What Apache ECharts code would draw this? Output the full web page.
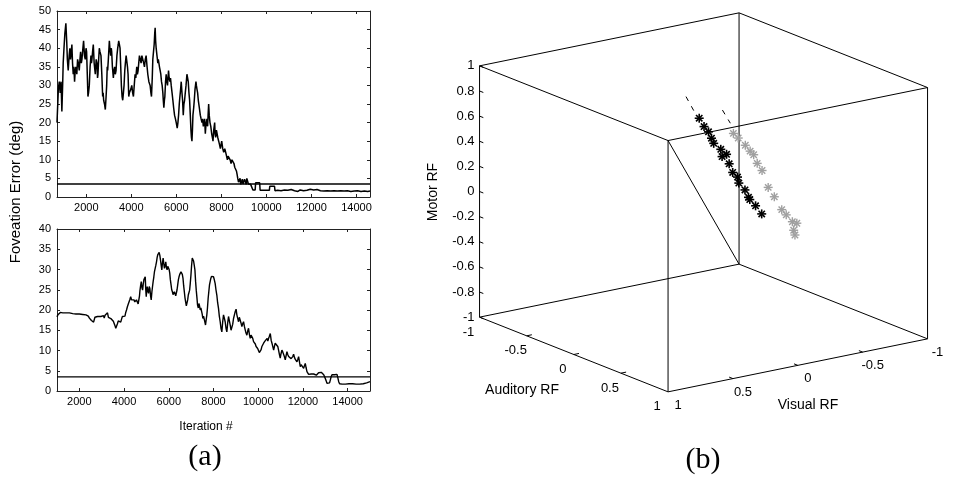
<!DOCTYPE html>
<html>
<head>
<meta charset="utf-8">
<script src="https://cdn.jsdelivr.net/npm/echarts@6/dist/echarts.min.js"></script>
<style>
  html, body { margin: 0; background: #fff; }
  #chart { width: 980px; height: 480px; }
</style>
</head>
<body>
<div id="chart"></div>
<script>
// ---- panel (a): foveation error vs iteration, two runs ----
const iterTicks = [2000, 4000, 6000, 8000, 10000, 12000, 14000];
const threshold = 3.5;

const runTop = [
  [700,20],[740,20],[760,29],[800,31],[842,28],[880,31],[916,23],[950,30],[975,36],[1010,40],[1050,44],[1094,46.7],
  [1130,42],[1160,37],[1198,34],[1240,38],[1272,40],[1300,37],[1317,38],[1361,41],[1390,36],[1421,33],[1450,35],
  [1480,31],[1510,34],[1540,35],[1580,33],[1614,37],[1650,36],[1688,34],[1720,37],[1748,39],[1780,36],[1807,37],
  [1850,40],[1881,42],[1920,38],[1955,37],[1990,40],[2015,39],[2045,33],[2074,27],[2100,28],[2134,30],[2170,35],
  [2208,38],[2230,36],[2252,37],[2280,39],[2312,41],[2350,36],[2401,33],[2440,37],[2475,36],[2500,32],[2520,33],
  [2550,37],[2579,40],[2610,39],[2653,38],[2690,33],[2728,27],[2750,28],[2772,26],[2810,25],[2846,23.5],[2880,27],
  [2906,30],[2930,35],[2950,34],[2980,37],[3025,42],[3050,40],[3084,38],[3110,40],[3129,39],[3160,35],[3203,32],
  [3230,34],[3262,35],[3290,33],[3322,34],[3360,38],[3396,40],[3420,41],[3440,42],[3470,41],[3500,40],[3530,35],
  [3559,30],[3590,27],[3619,26],[3650,28],[3678,30],[3710,34],[3737,36],[3770,38],[3797,38],[3830,35],[3856,33],
  [3886,27],[3915,28],[3945,28],[3980,29],[4020,30],[4060,28],[4094,27],[4130,30],[4168,33],[4200,32],[4242,35],
  [4270,33],[4302,34],[4330,36],[4361,38],[4400,37],[4435,36],[4470,38],[4510,38],[4550,36],[4584,35],[4620,37],
  [4658,38],[4700,35],[4732,33],[4780,31],[4836,30],[4870,28],[4896,27],[4930,32],[4955,37],[4985,39],[5015,41],
  [5040,44],[5059,45.5],[5080,42],[5104,40],[5140,38],[5178,36],[5200,37],[5222,37],[5250,35],[5282,34],[5310,33],
  [5341,31],[5370,30],[5401,28],[5420,26],[5445,24],[5470,26],[5490,27],[5520,31],[5549,33],[5580,31],[5608,30],
  [5630,32],[5653,34],[5680,32],[5712,31],[5740,32],[5772,30],[5810,28],[5846,26],[5880,24],[5920,22],[5960,21],
  [5995,20],[6039,18.5],[6070,20],[6099,22],[6130,25],[6158,27],[6190,29],[6217,31],[6250,28],[6277,26],[6307,22],
  [6336,25],[6366,26],[6396,28],[6430,30],[6470,33],[6500,32],[6529,31],[6560,28],[6589,26],[6620,22],[6648,18],
  [6670,16],[6693,15],[6715,18],[6737,22],[6770,24],[6797,26],[6830,29],[6871,31],[6890,30],[6915,29],[6945,28],
  [6975,26],[7020,24],[7064,22],[7100,21],[7138,20],[7170,21],[7197,19],[7230,20],[7257,21],[7287,17],[7310,19],
  [7331,20],[7360,21],[7390,19],[7410,22],[7435,25],[7460,22],[7494,20],[7530,19],[7569,17],[7600,16],[7628,15],
  [7660,18],[7702,20],[7720,17],[7747,16],[7780,18],[7806,18],[7840,16],[7881,15],[7920,14],[7955,13],[7985,14],
  [8014,15],[8060,13],[8103,12],[8150,13],[8192,12],[8230,11],[8267,10],[8300,11],[8341,11],[8390,10],[8430,9],
  [8470,10],[8519,10],[8560,9],[8593,8],[8630,7.5],[8668,7],[8700,6],[8727,5],[8760,4],[8786,3.5],
  [8800,3.4],[8830,5],[8860,3.4],[8900,3.4],[8930,4.8],[8960,3.5],[9000,3.5],[9030,4.8],[9080,4.8],[9100,3.4],
  [9130,5],[9180,5],[9200,3.5],[9260,3.5],[9300,3.4],[9380,3.4],[9400,1.9],[9500,1.9],[9520,3.8],[9700,3.8],
  [9720,1.8],[10130,1.8],[10150,2.9],[10360,2.9],[10380,1.7],[10500,1.8],[10650,1.7],[10800,1.9],[10950,1.8],
  [11100,2.0],[11250,1.7],[11400,1.5],[11500,1.9],[11650,1.7],[11800,1.8],[11950,2.1],[12100,1.9],[12250,2.0],
  [12400,1.7],[12550,1.6],[12700,1.7],[12850,1.6],[13000,1.7],[13150,1.6],[13300,1.7],[13450,1.6],[13600,1.7],
  [13750,1.5],[13900,1.6],[14050,1.7],[14200,1.5],[14350,1.6],[14500,1.5],[14600,1.6]
];

const runBottom = [
  [1000,18.3],[1040,18.8],[1070,19.2],[1150,19.4],[1260,19.3],[1330,19.0],[1408,19.3],[1480,19.1],[1556,19.3],
  [1630,18.9],[1704,19.1],[1780,19.3],[1852,19.0],[1930,19.2],[2000,19.0],[2070,19.1],[2148,18.9],[2220,19.1],
  [2296,18.8],[2350,18.9],[2400,18.5],[2450,18.0],[2489,17.8],[2540,17.4],[2592,17.3],[2637,17.0],[2696,18.2],
  [2750,18.5],[2815,18.4],[2880,18.7],[2963,18.4],[3000,18.8],[3037,18.2],[3080,18.6],[3111,18.0],[3150,18.7],
  [3185,18.5],[3220,19.0],[3259,19.3],[3300,18.2],[3333,17.8],[3370,18.3],[3407,17.9],[3440,18.1],[3481,17.5],
  [3520,17.2],[3555,17.1],[3590,16.2],[3629,15.5],[3665,15.8],[3703,16.6],[3740,17.3],[3777,17.0],[3815,17.4],
  [3851,17.0],[3890,17.8],[3925,18.4],[3960,18.0],[4000,18.8],[4040,18.5],[4074,19.4],[4110,20.0],[4148,20.8],
  [4185,21.4],[4222,21.6],[4260,22.6],[4296,23.3],[4335,22.5],[4370,22.2],[4410,22.9],[4444,22.5],[4480,22.0],
  [4518,21.6],[4555,22.5],[4592,22.2],[4630,21.5],[4666,21.9],[4690,23.5],[4710,24.8],[4740,26.0],[4769,27.0],
  [4800,25.5],[4829,24.9],[4860,26.5],[4888,27.5],[4920,27.8],[4947,28.2],[4970,25.0],[4992,23.3],[5015,25.0],
  [5036,25.8],[5065,24.6],[5095,24.1],[5125,25.8],[5154,25.3],[5185,23.5],[5214,22.5],[5245,24.5],[5273,25.8],
  [5300,27.0],[5332,28.2],[5360,29.5],[5391,30.3],[5420,31.0],[5451,31.9],[5480,33.0],[5510,33.7],[5540,34.0],
  [5569,34.2],[5600,33.5],[5628,32.4],[5660,31.0],[5688,29.9],[5715,31.5],[5747,32.8],[5775,31.5],[5806,30.3],
  [5835,31.0],[5865,31.9],[5895,30.5],[5925,29.9],[5955,30.8],[5984,31.1],[6015,30.0],[6043,29.1],[6070,27.5],
  [6102,26.2],[6130,25.0],[6162,24.5],[6190,23.8],[6221,23.7],[6250,24.5],[6280,24.9],[6310,23.5],[6339,23.7],
  [6370,25.0],[6399,26.2],[6430,27.5],[6458,28.2],[6490,28.8],[6517,29.1],[6545,29.4],[6576,29.5],[6605,28.8],
  [6636,27.8],[6665,26.0],[6695,24.5],[6725,23.0],[6754,22.0],[6785,21.0],[6813,20.8],[6845,22.5],[6873,23.7],
  [6900,24.0],[6932,24.9],[6960,26.5],[6991,28.6],[7020,31.0],[7050,32.8],[7080,32.5],[7109,32.1],[7140,31.0],
  [7169,29.9],[7200,27.0],[7228,24.9],[7260,23.0],[7287,21.2],[7320,20.5],[7347,21.6],[7375,21.0],[7406,20.0],
  [7435,20.5],[7465,20.8],[7495,19.0],[7524,17.9],[7555,18.5],[7584,18.8],[7615,17.0],[7643,16.3],[7670,17.5],
  [7702,18.8],[7730,20.5],[7761,22.9],[7790,24.5],[7821,26.2],[7850,27.0],[7880,27.8],[7910,28.3],[7939,28.6],
  [7970,28.4],[8000,28.2],[8040,27.4],[8075,26.5],[8110,25.0],[8149,23.7],[8185,21.8],[8224,20.4],[8260,18.5],
  [8299,17.1],[8335,15.5],[8373,14.6],[8410,17.0],[8448,18.8],[8485,18.0],[8522,17.1],[8560,15.5],[8597,14.6],
  [8635,16.8],[8672,18.4],[8710,17.3],[8746,16.3],[8785,15.0],[8821,14.6],[8860,16.5],[8896,17.9],[8935,18.8],
  [8970,19.6],[9010,20.2],[9045,18.8],[9080,18.0],[9120,17.1],[9155,18.2],[9194,17.9],[9230,16.8],[9269,15.9],
  [9305,16.6],[9344,17.1],[9380,16.0],[9418,15.1],[9455,14.3],[9493,13.8],[9530,14.8],[9568,15.5],[9605,14.0],
  [9642,13.0],[9680,13.8],[9717,14.2],[9755,13.0],[9792,12.2],[9830,12.0],[9870,11.6],[9905,11.0],[9940,11.4],
  [9975,10.5],[10015,10.1],[10050,9.5],[10090,9.3],[10130,10.2],[10165,11.0],[10210,11.4],[10240,11.8],
  [10270,12.0],[10300,12.3],[10330,12.5],[10360,12.6],[10400,13.0],[10430,12.3],[10465,13.0],[10500,13.5],
  [10540,14.2],[10580,12.5],[10615,11.8],[10650,11.0],[10690,10.1],[10725,11.0],[10760,11.8],[10800,12.2],
  [10840,12.2],[10875,11.0],[10910,10.1],[10950,9.0],[10985,8.1],[11020,9.2],[11060,10.1],[11100,9.6],
  [11135,9.3],[11170,8.5],[11210,7.7],[11250,8.8],[11285,9.7],[11320,9.0],[11360,8.5],[11400,8.8],[11434,8.5],
  [11470,8.0],[11510,7.7],[11545,8.5],[11583,9.1],[11620,8.3],[11660,7.8],[11700,7.5],[11733,7.2],[11770,7.8],
  [11807,8.5],[11845,7.2],[11882,6.0],[11920,6.5],[11956,6.8],[11995,6.2],[12031,5.6],[12065,6.2],[12105,6.8],
  [12140,5.8],[12180,4.8],[12220,4.4],[12255,4.1],[12300,3.9],[12330,4.0],[12370,4.2],[12400,3.8],[12450,3.9],
  [12480,4.2],[12520,3.8],[12560,4.1],[12600,3.9],[12640,4.2],[12700,4.5],[12740,4.8],[12780,4.8],[12820,4.6],
  [12860,4.5],[12900,4.3],[12930,4.0],[12970,3.5],[13000,3.1],[13040,2.5],[13076,1.9],[13110,1.6],[13150,1.5],
  [13190,2.0],[13225,2.7],[13260,3.5],[13300,4.0],[13340,3.8],[13375,3.7],[13410,4.0],[13450,4.2],[13490,4.0],
  [13524,4.1],[13560,3.3],[13600,2.3],[13640,1.8],[13673,1.6],[13750,1.7],[13830,1.6],[13900,1.7],[13980,1.9],
  [14060,1.8],[14140,1.9],[14220,1.8],[14300,1.7],[14380,1.7],[14460,1.8],[14540,1.7],[14620,1.6],[14700,1.8],
  [14780,1.9],[14850,2.0],[14920,2.1],[15000,2.3]
];

// ---- panel (b): receptive fields, [auditory, visual, motor] ----
const rfBlack = [
  [-0.17,-0.09,0.60],[-0.16,-0.12,0.53],[-0.14,-0.14,0.49],[-0.15,-0.17,0.43],[-0.14,-0.18,0.39],
  [-0.12,-0.22,0.34],[-0.12,-0.23,0.28],[-0.10,-0.25,0.30],[-0.10,-0.27,0.22],[-0.09,-0.29,0.15],
  [-0.08,-0.32,0.11],[-0.08,-0.33,0.06],[-0.07,-0.37,0.00],[-0.06,-0.39,-0.06],[-0.06,-0.40,-0.08],
  [-0.04,-0.43,-0.13],[-0.03,-0.47,-0.20]
];
const rfGray = [
  [0.00,-0.23,0.50],[0.01,-0.26,0.46],[0.03,-0.30,0.40],[0.04,-0.33,0.35],[0.05,-0.35,0.32],
  [0.06,-0.37,0.25],[0.07,-0.40,0.19],[0.08,-0.44,0.05],[0.09,-0.48,-0.03],[0.10,-0.53,-0.14],
  [0.12,-0.55,-0.18],[0.13,-0.59,-0.24],[0.15,-0.61,-0.25],[0.13,-0.60,-0.31],[0.13,-0.61,-0.35]
];
const fitBlack = [[-0.20,-0.01,0.78,-0.18,-0.06,0.655]];
const fitGray = [[-0.02,-0.16,0.695,-0.005,-0.21,0.584]];
const motorTicks = [-1,-0.8,-0.6,-0.4,-0.2,0,0.2,0.4,0.6,0.8,1];
const audTicks = [-1,-0.5,0,0.5,1];
const visTicks = [-1,-0.5,0,0.5,1];

// view of the cube: screen pixels per unit along each axis
const VIEW = { ax: 94.25, ay: -37.35, vx: -129.75, vy: -26.5, mz: 125.65 };
function proj(a, v, m) {
  return [VIEW.ax * a + VIEW.vx * v, VIEW.mz * m + VIEW.ay * a + VIEW.vy * v];
}

const cubeEdges = [];
const sq = [[-1, 1], [1, 1], [1, -1], [-1, -1]];
[-1, 1].forEach(m => {
  for (let i = 0; i < 4; i++) {
    const p = sq[i], q = sq[(i + 1) % 4];
    cubeEdges.push([p[0], p[1], m, q[0], q[1], m]);
  }
});
sq.forEach(p => cubeEdges.push([p[0], p[1], -1, p[0], p[1], 1]));
cubeEdges.push([1, 1, 1, -1, -1, -1]);

const tickSegs = [];
motorTicks.forEach(m => tickSegs.push([-1, 1, m, -0.96, 1, m]));
audTicks.slice(1, -1).forEach(a => tickSegs.push([a, 1, -1, a, 0.96, -1]));
visTicks.slice(1, -1).forEach(v => tickSegs.push([1, v, -1, 0.96, v, -1]));

const FONT = '"Liberation Sans", Arial, Helvetica, sans-serif';

function segItem(stroke, width, dash) {
  return function (params, api) {
    const p = api.coord(proj(api.value(0), api.value(1), api.value(2)));
    const q = api.coord(proj(api.value(3), api.value(4), api.value(5)));
    return {
      type: 'line',
      shape: { x1: p[0], y1: p[1], x2: q[0], y2: q[1] },
      style: { stroke: stroke, lineWidth: width, lineDash: dash || null }
    };
  };
}

function starItem(color, width, r) {
  return function (params, api) {
    const c = api.coord(proj(api.value(0), api.value(1), api.value(2)));
    const d = r * 0.7071;
    const segs = [[-r, 0, r, 0], [0, -r, 0, r], [-d, -d, d, d], [-d, d, d, -d]];
    return {
      type: 'group',
      children: segs.map(s => ({
        type: 'line',
        shape: { x1: c[0] + s[0], y1: c[1] + s[1], x2: c[0] + s[2], y2: c[1] + s[3] },
        style: { stroke: color, lineWidth: width }
      }))
    };
  };
}

function labelItem(pointFn, dx, dy, align) {
  return function (params, api) {
    const val = api.value(0);
    const c = api.coord(pointFn(val));
    return {
      type: 'text',
      x: c[0] + dx, y: c[1] + dy,
      style: {
        text: String(val), fill: '#000', font: '13px ' + FONT,
        align: align, textAlign: align, verticalAlign: 'middle', textVerticalAlign: 'middle'
      }
    };
  };
}

function frameX(grid, min, max, pos) {
  const main = pos === 'bottom';
  return {
    gridIndex: grid, type: 'value', position: pos, min: min, max: max,
    axisLine: { onZero: false, lineStyle: { color: '#222', width: 1 } },
    axisTick: { inside: true, length: 3, customValues: iterTicks, lineStyle: { color: '#222' } },
    axisLabel: { show: main, customValues: iterTicks, formatter: v => String(v),
      color: '#000', fontSize: 11, fontFamily: FONT, margin: 5 },
    splitLine: { show: false }
  };
}
function frameY(grid, max, pos) {
  const main = pos === 'left';
  return {
    gridIndex: grid, type: 'value', position: pos, min: 0, max: max, interval: 5,
    axisLine: { show: true, lineStyle: { color: '#222', width: 1 } },
    axisTick: { show: true, inside: true, length: 3, lineStyle: { color: '#222' } },
    axisLabel: { show: main, color: '#000', fontSize: 11, fontFamily: FONT, margin: 6 },
    splitLine: { show: false }
  };
}

const chart = echarts.init(document.getElementById('chart'));
chart.setOption({
  animation: false,
  backgroundColor: '#fff',
  grid: [
    { left: 57, top: 11, width: 313, height: 186 },
    { left: 57, top: 229, width: 313, height: 162 },
    { left: 400, top: 0, width: 580, height: 480 }
  ],
  xAxis: [
    frameX(0, 700, 14600, 'bottom'),
    frameX(0, 700, 14600, 'top'),
    frameX(1, 1000, 15000, 'bottom'),
    frameX(1, 1000, 15000, 'top'),
    { gridIndex: 2, type: 'value', min: -303.55, max: 276.45, show: false }
  ],
  yAxis: [
    frameY(0, 50, 'left'),
    frameY(0, 50, 'right'),
    frameY(1, 40, 'left'),
    frameY(1, 40, 'right'),
    { gridIndex: 2, type: 'value', min: -277.65, max: 202.35, show: false }
  ],
  series: [
    { type: 'line', xAxisIndex: 0, yAxisIndex: 0, data: runTop, showSymbol: false,
      lineStyle: { color: '#000', width: 1.5 } },
    { type: 'line', xAxisIndex: 0, yAxisIndex: 0, data: [[700, threshold], [14600, threshold]], showSymbol: false,
      lineStyle: { color: '#000', width: 1.3 } },
    { type: 'line', xAxisIndex: 2, yAxisIndex: 2, data: runBottom, showSymbol: false,
      lineStyle: { color: '#000', width: 1.4 } },
    { type: 'line', xAxisIndex: 2, yAxisIndex: 2, data: [[1000, threshold], [15000, threshold]], showSymbol: false,
      lineStyle: { color: '#000', width: 1.3 } },

    { type: 'custom', xAxisIndex: 4, yAxisIndex: 4, data: cubeEdges, renderItem: segItem('#000', 1) },
    { type: 'custom', xAxisIndex: 4, yAxisIndex: 4, data: tickSegs, renderItem: segItem('#000', 1) },
    { type: 'custom', xAxisIndex: 4, yAxisIndex: 4, data: fitBlack, renderItem: segItem('#000', 1, [5, 6]) },
    { type: 'custom', xAxisIndex: 4, yAxisIndex: 4, data: fitGray, renderItem: segItem('#000', 1, [5, 6]) },
    { type: 'custom', xAxisIndex: 4, yAxisIndex: 4, data: rfGray, renderItem: starItem('#a0a0a0', 1.4, 4.5) },
    { type: 'custom', xAxisIndex: 4, yAxisIndex: 4, data: rfBlack, renderItem: starItem('#000', 1.6, 4.5) },
    { type: 'custom', xAxisIndex: 4, yAxisIndex: 4, data: motorTicks.map(m => [m]),
      renderItem: labelItem(m => proj(-1, 1, m), -5, 0, 'right') },
    { type: 'custom', xAxisIndex: 4, yAxisIndex: 4, data: audTicks.map(a => [a]),
      renderItem: labelItem(a => proj(a, 1, -1), -11, 15, 'center') },
    { type: 'custom', xAxisIndex: 4, yAxisIndex: 4, data: visTicks.map(v => [v]),
      renderItem: labelItem(v => proj(1, v, -1), 10, 13.5, 'center') }
  ],
  graphic: [
    { type: 'text', x: 16, y: 192, rotation: Math.PI / 2,
      style: { text: 'Foveation Error (deg)', font: '15px ' + FONT, fill: '#000',
        align: 'center', textAlign: 'center', verticalAlign: 'middle', textVerticalAlign: 'middle' } },
    { type: 'text', x: 206, y: 427,
      style: { text: 'Iteration #', font: '12px ' + FONT, fill: '#000',
        align: 'center', textAlign: 'center', verticalAlign: 'middle', textVerticalAlign: 'middle' } },
    { type: 'text', x: 205, y: 457,
      style: { text: '(a)', font: '30px "Liberation Serif", "Times New Roman", serif', fill: '#000',
        align: 'center', textAlign: 'center', verticalAlign: 'middle', textVerticalAlign: 'middle' } },
    { type: 'text', x: 703, y: 460,
      style: { text: '(b)', font: '30px "Liberation Serif", "Times New Roman", serif', fill: '#000',
        align: 'center', textAlign: 'center', verticalAlign: 'middle', textVerticalAlign: 'middle' } },
    { type: 'text', x: 433, y: 192, rotation: Math.PI / 2,
      style: { text: 'Motor RF', font: '14px ' + FONT, fill: '#000',
        align: 'center', textAlign: 'center', verticalAlign: 'middle', textVerticalAlign: 'middle' } },
    { type: 'text', x: 522, y: 390,
      style: { text: 'Auditory RF', font: '14px ' + FONT, fill: '#000',
        align: 'center', textAlign: 'center', verticalAlign: 'middle', textVerticalAlign: 'middle' } },
    { type: 'text', x: 808, y: 405,
      style: { text: 'Visual RF', font: '14px ' + FONT, fill: '#000',
        align: 'center', textAlign: 'center', verticalAlign: 'middle', textVerticalAlign: 'middle' } }
  ]
});
</script>
</body>
</html>
